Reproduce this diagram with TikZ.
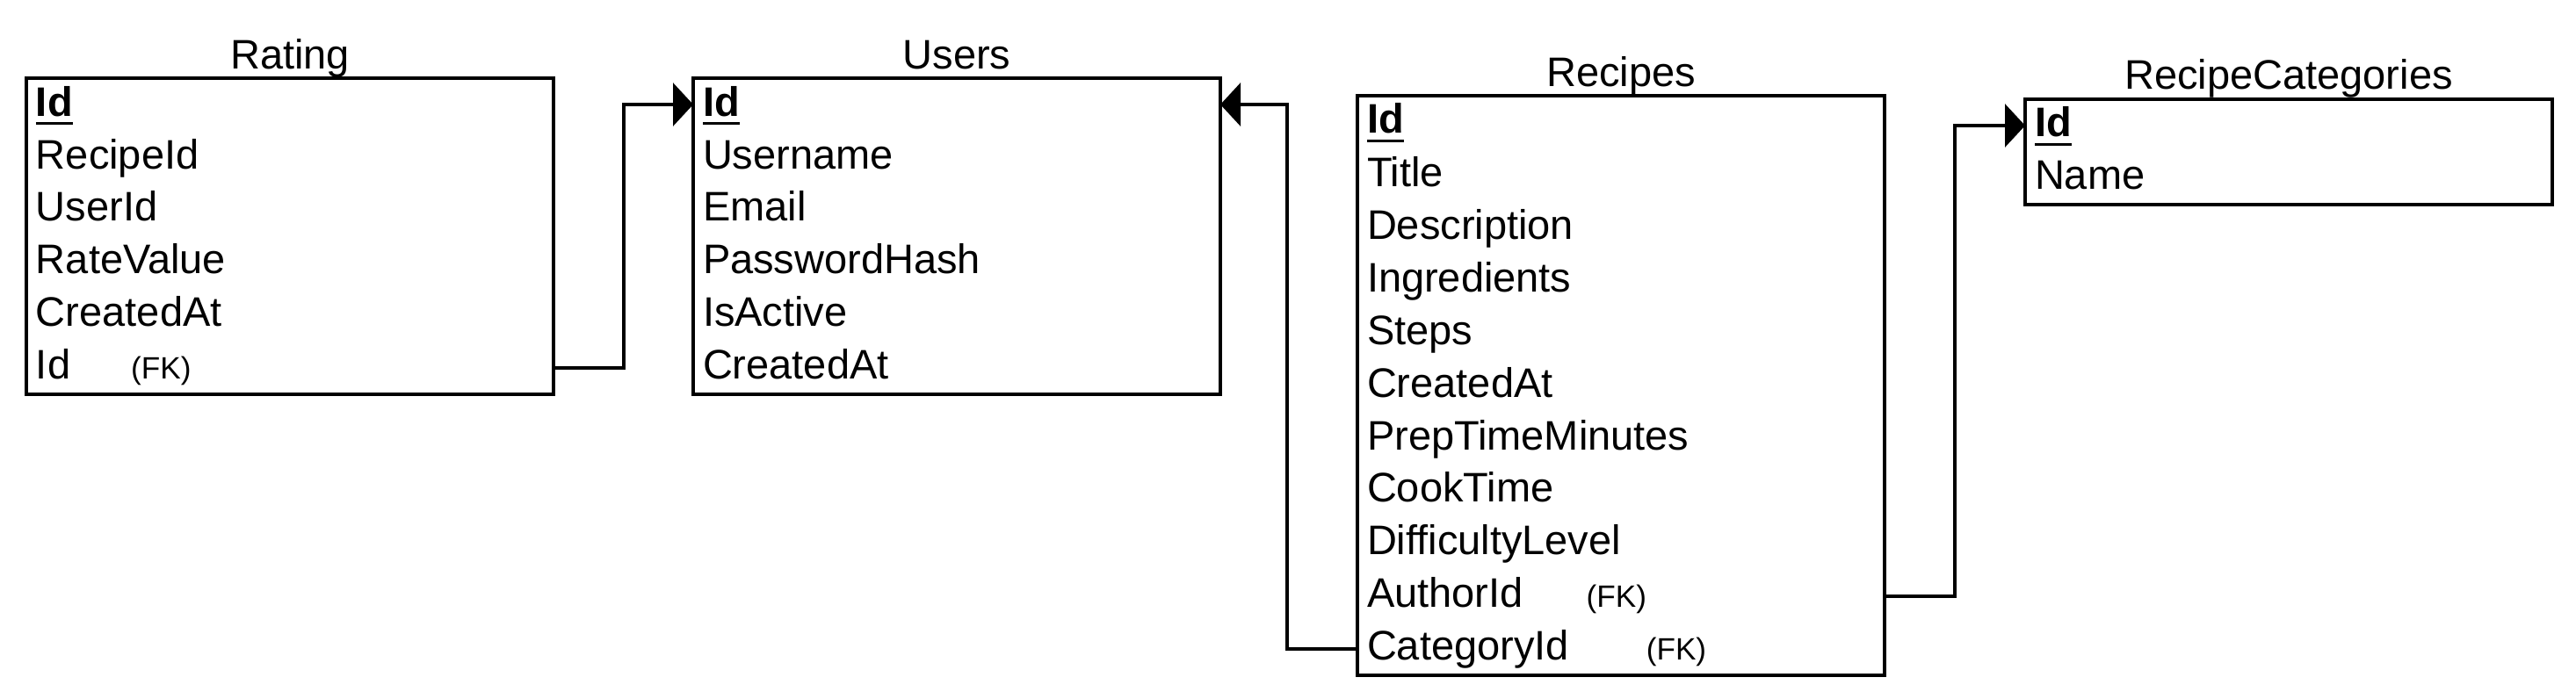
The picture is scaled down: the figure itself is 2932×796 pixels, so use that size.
\documentclass[tikz,border=0pt]{standalone}
\usepackage{fontspec}
\setmainfont{Liberation Sans}
\usetikzlibrary{positioning,fit,arrows.meta}
\newcommand{\pkey}[1]{\setbox0\hbox{\bfseries #1}\rlap{\rule[-0.95mm]{\wd0}{0.3mm}}\box0}
\newcommand{\fk}[1]{{\fontsize{10}{12}\selectfont #1}}
\tikzset{
	field/.style={anchor=north west, minimum width=60mm, minimum height=6mm,
		inner xsep=1.1mm, inner ysep=0pt, outer sep=0pt, text width=57.8mm, align=left,
		text height=4.3mm, text depth=1.7mm, font=\fontsize{13.37}{16}\selectfont},
	entity/.style={draw, line width=0.33mm, inner sep=0pt, outer sep=0pt},
	title/.style={font=\fontsize{13.37}{16}\selectfont},
	link/.style={line width=0.33mm, -{Triangle[length=2.3mm,width=4.9mm]}}
}
\begin{document}
\begin{tikzpicture}[x=0.1mm,y=-0.1mm]
		\useasboundingbox (0,0) rectangle (2932,796);
		%
		\node[field] (ra1) at (30,89) {\pkey{Id}};
		\foreach \f [count=\i from 2] in {RecipeId,UserId,RateValue,CreatedAt,Id\hspace{6.9mm}\fk{(FK)}}{
			\pgfmathtruncatemacro\j{\i-1}
			\node[field, below=0pt of ra\j] (ra\i) {\f};
		}
		\node[entity, fit=(ra1)(ra6)] (ra) {};
		\node[title, above=1.1mm of ra.north, anchor=base] (rat) {Rating};
		%
		\node[field] (us1) at (789,89) {\pkey{Id}};
		\foreach \f [count=\i from 2] in {Username,Email,PasswordHash,IsActive,CreatedAt}{
			\pgfmathtruncatemacro\j{\i-1}
			\node[field, below=0pt of us\j] (us\i) {\f};
		}
		\node[entity, fit=(us1)(us6)] (us) {};
		\node[title, above=1.1mm of us.north, anchor=base] (ust) {Users};
		%
		\node[field] (re1) at (1545,109) {\pkey{Id}};
		\foreach \f [count=\i from 2] in {Title,Description,Ingredients,Steps,CreatedAt,PrepTimeMinutes,CookTime,DifficultyLevel,AuthorId\hspace{7.2mm}\fk{(FK)},CategoryId\hspace{8.8mm}\fk{(FK)}}{
			\pgfmathtruncatemacro\j{\i-1}
			\node[field, below=0pt of re\j] (re\i) {\f};
		}
		\node[entity, fit=(re1)(re11)] (re) {};
		\node[title, above=1.1mm of re.north, anchor=base] (ret) {Recipes};
		%
		\node[field] (rc1) at (2305,113) {\pkey{Id}};
		\node[field, below=0pt of rc1] (rc2) {Name};
		\node[entity, fit=(rc1)(rc2)] (rc) {};
		\node[title, above=1.2mm of rc.north, anchor=base] (rct) {RecipeCategories};
		%
		\draw[link] (ra6.east) -- ++(80,0) |- (us1.west);
		\draw[link] (re11.west) -- ++(-80,0) |- (us1.east);
		\draw[link] (re10.east) -- ++(80,0) |- (rc1.west);
\end{tikzpicture}
\end{document}
